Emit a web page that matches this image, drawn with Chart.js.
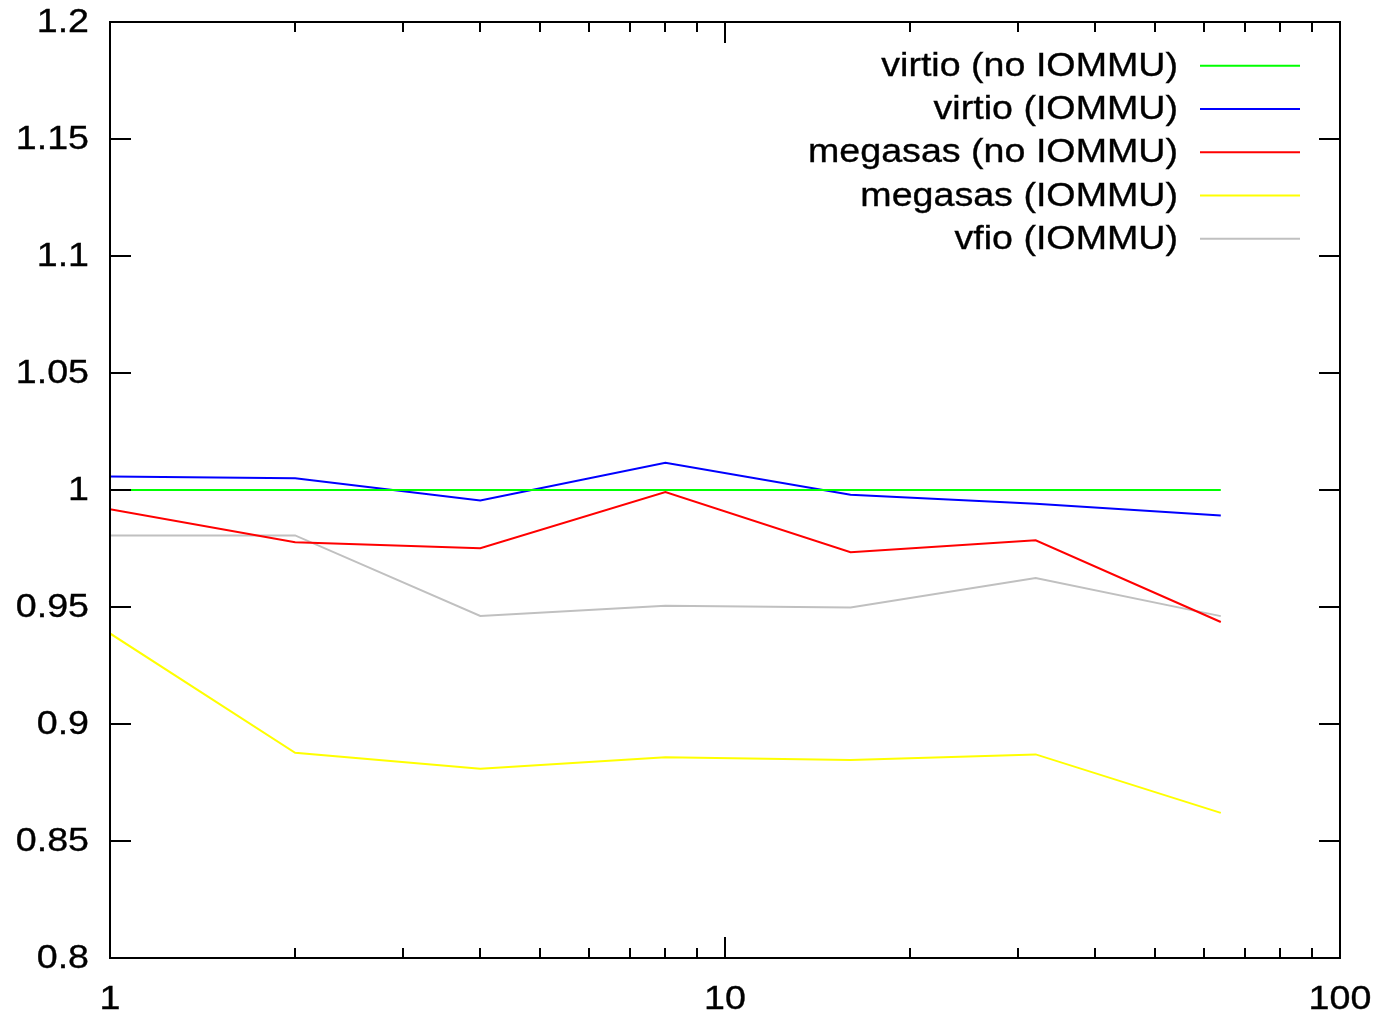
<!DOCTYPE html>
<html>
<head>
<meta charset="utf-8">
<script src="https://cdn.jsdelivr.net/npm/chart.js@4.4.1/dist/chart.umd.min.js"></script>
<style>
html,body{margin:0;padding:0;background:#fff;}
#wrap{width:1378px;height:1017px;}
</style>
</head>
<body>
<div id="wrap"><canvas id="c" width="1378" height="1017"></canvas></div>
<script>
// ---- data ----
const xValues = [1, 2, 4, 8, 16, 32, 64];
const virtioNoIommu = [1.0, 1.0, 1.0, 1.0, 1.0, 1.0, 1.0];
const virtioIommu = [1.0058, 1.0050, 0.9955, 1.0116, 0.9980, 0.9941, 0.9891];
const megasasNoIommu = [0.9918, 0.9777, 0.9751, 0.9991, 0.9734, 0.9785, 0.9436];
const megasasIommu = [0.9387, 0.8877, 0.8809, 0.8858, 0.8846, 0.8870, 0.8620];
const vfioIommu = [0.9806, 0.9806, 0.9462, 0.9505, 0.9498, 0.9624, 0.9461];
const seriesLabels = ["virtio (no IOMMU)", "virtio (IOMMU)", "megasas (no IOMMU)", "megasas (IOMMU)", "vfio (IOMMU)"];
const seriesColors = ["#00ff00", "#0000ff", "#ff0000", "#ffff00", "#c0c0c0"];
const xTickLabels = [1, 10, 100];
const yTickLabels = [0.8, 0.85, 0.9, 0.95, 1.0, 1.05, 1.1, 1.15, 1.2];

const allSeries = [virtioNoIommu, virtioIommu, megasasNoIommu, megasasIommu, vfioIommu];
const datasets = allSeries.map((vals, i) => ({
  label: seriesLabels[i],
  data: vals.map((v, j) => ({x: xValues[j], y: v})),
  borderColor: seriesColors[i],
  backgroundColor: seriesColors[i],
  borderWidth: 2,
  pointRadius: 0,
  tension: 0,
  fill: false
}));

const FONT = '33px "Liberation Sans", Arial, sans-serif';
const SX = 1.14;

function stretchedText(ctx, text, x, y, align) {
  ctx.save();
  ctx.translate(x, y);
  ctx.scale(SX, 1);
  ctx.textAlign = align;
  ctx.fillText(text, 0, 0);
  ctx.lineWidth = 0.35;
  ctx.strokeStyle = '#000';
  ctx.strokeText(text, 0, 0);
  ctx.restore();
}

const frame = {
  id: 'frame',
  afterDatasetsDraw(chart) {
    const ctx = chart.ctx;
    const a = chart.chartArea;
    const xs = chart.scales.x, ys = chart.scales.y;
    ctx.save();
    ctx.strokeStyle = '#000';
    ctx.lineWidth = 2;
    ctx.beginPath();
    ctx.rect(a.left, a.top, a.right - a.left, a.bottom - a.top);
    ctx.stroke();
    const major = 21, minor = 10;
    ctx.beginPath();
    // y ticks (both sides)
    yTickLabels.forEach(v => {
      const p = Math.round(ys.getPixelForValue(v));
      ctx.moveTo(a.left, p); ctx.lineTo(a.left + major, p);
      ctx.moveTo(a.right, p); ctx.lineTo(a.right - major, p);
    });
    // x ticks log major & minor
    for (let dec = 1; dec <= 100; dec *= 10) {
      for (let m = 1; m <= 9; m++) {
        const v = dec * m;
        if (v > 100) break;
        const len = (m === 1) ? major : minor;
        const p = Math.round(xs.getPixelForValue(v));
        ctx.moveTo(p, a.bottom); ctx.lineTo(p, a.bottom - len);
        ctx.moveTo(p, a.top); ctx.lineTo(p, a.top + len);
      }
    }
    ctx.stroke();

    // tick labels
    ctx.fillStyle = '#000';
    ctx.font = FONT;
    ctx.textBaseline = 'middle';
    yTickLabels.forEach(v => {
      const t = String(Math.round(v * 100) / 100);
      stretchedText(ctx, t, 89, ys.getPixelForValue(v) + 1, 'right');
    });
    xTickLabels.forEach(v => {
      stretchedText(ctx, String(v), xs.getPixelForValue(v), 1000, 'center');
    });

    // legend
    const textRight = 1178, lx1 = 1200, lx2 = 1300, ly0 = 65.7, dy = 43.25;
    chart.data.datasets.forEach((ds, i) => {
      const y = ly0 + i * dy;
      ctx.fillStyle = '#000';
      stretchedText(ctx, ds.label, textRight, y + 1, 'right');
      ctx.strokeStyle = ds.borderColor;
      ctx.lineWidth = 2;
      ctx.beginPath();
      ctx.moveTo(lx1, y); ctx.lineTo(lx2, y);
      ctx.stroke();
    });
    ctx.restore();
  }
};

new Chart(document.getElementById('c'), {
  type: 'line',
  data: { datasets },
  options: {
    responsive: false,
    animation: false,
    devicePixelRatio: 1,
    layout: { padding: { left: 110, top: 22, right: 38, bottom: 59 } },
    plugins: { legend: { display: false }, tooltip: { enabled: false } },
    scales: {
      x: { type: 'logarithmic', min: 1, max: 100, display: false },
      y: { type: 'linear', min: 0.8, max: 1.2, display: false }
    }
  },
  plugins: [frame]
});
</script>
</body>
</html>
